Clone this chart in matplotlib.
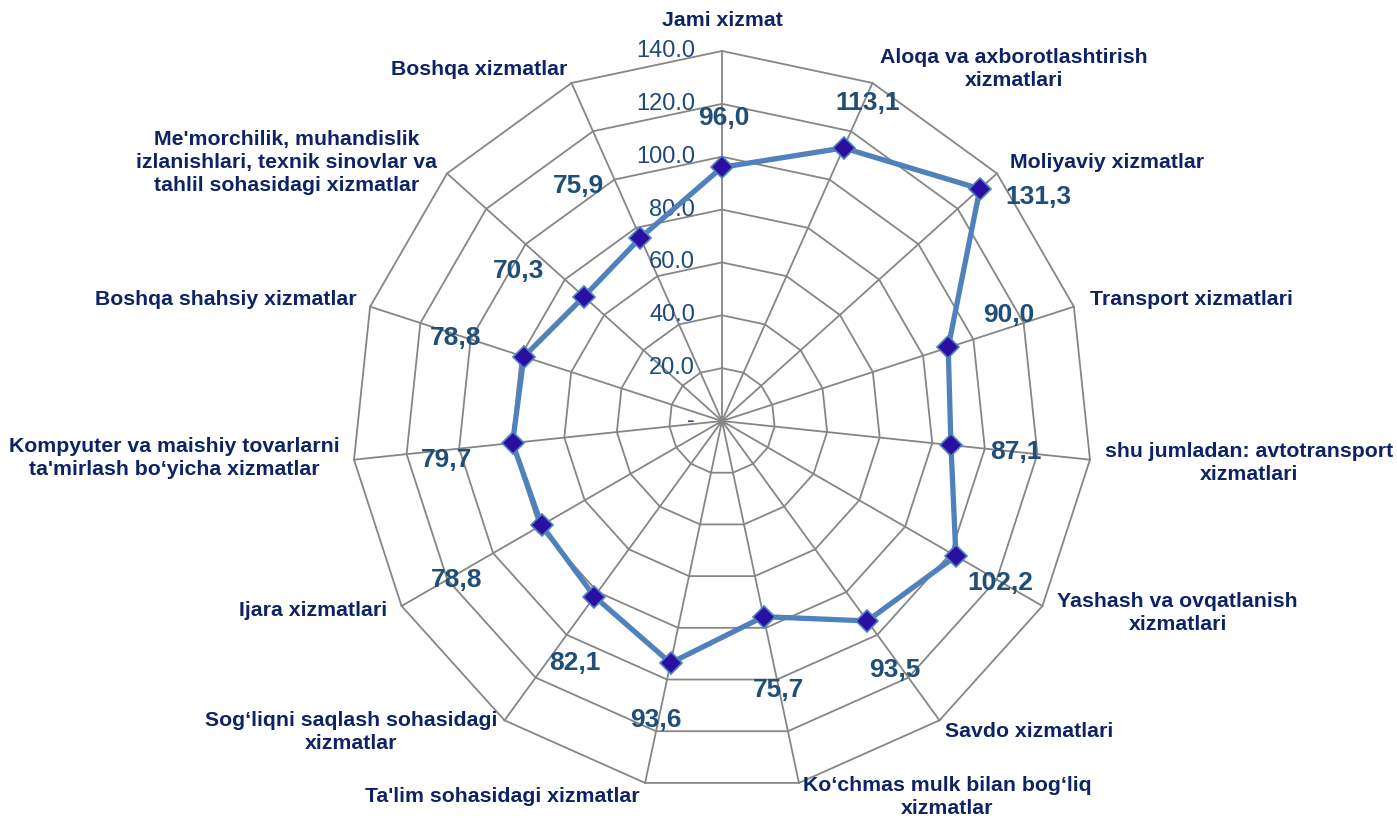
import numpy as np
import matplotlib
matplotlib.use("Agg")
import matplotlib.pyplot as plt

categories = [
    "Jami xizmat",
    "Aloqa va axborotlashtirish\nxizmatlari",
    "Moliyaviy xizmatlar",
    "Transport xizmatlari",
    "shu jumladan: avtotransport\nxizmatlari",
    "Yashash va ovqatlanish\nxizmatlari",
    "Savdo xizmatlari",
    "Ko\u2018chmas mulk bilan bog\u2018liq\nxizmatlar",
    "Ta'lim sohasidagi xizmatlar",
    "Sog\u2018liqni saqlash sohasidagi\nxizmatlar",
    "Ijara xizmatlari",
    "Kompyuter va maishiy tovarlarni\nta'mirlash bo\u2018yicha xizmatlar",
    "Boshqa shahsiy xizmatlar",
    "Me'morchilik, muhandislik\nizlanishlari, texnik sinovlar va\ntahlil sohasidagi xizmatlar",
    "Boshqa xizmatlar",
]
values = [96.0, 113.1, 131.3, 90.0, 87.1, 102.2, 93.5, 75.7, 93.6, 82.1, 78.8, 79.7, 78.8, 70.3, 75.9]
value_labels = ["96,0", "113,1", "131,3", "90,0", "87,1", "102,2", "93,5", "75,7",
                "93,6", "82,1", "78,8", "79,7", "78,8", "70,3", "75,9"]
ring_levels = [0, 20, 40, 60, 80, 100, 120, 140]
ring_labels = ["-", "20.0", "40.0", "60.0", "80.0", "100.0", "120.0", "140.0"]

# layout / style (pixel offsets for labels)
cat_offsets = [(0, -31), (8, -14), (13, -11), (16, -7), (15, 3), (15, 7), (6, 11), (4, 14),
               (-5, 14), (-7, 12), (-14, 5), (-14, -2), (-13, -7), (-10, -11), (-4, -13)]
cat_ha = ["center", "left", "left", "left", "left", "left", "left", "left",
          "right", "right", "right", "right", "right", "right", "right"]
cat_ma = ["center"] * 15
val_offsets = [(2, -49), (24, -45), (59, 8), (61, -32), (65, 7), (44, 27), (28, 49), (15, 73),
               (-15, 57), (-20, 66), (-85, 55), (-66, 17), (-68, -19), (-65, -26), (-62, -52)]

W, H = 1397, 818
cx, cy = 722, 421
rmax_px = 370.0
k = rmax_px / 140.0  # px per unit

fig = plt.figure(figsize=(W / 100, H / 100), dpi=100)
ax = fig.add_axes([0, 0, 1, 1])
ax.set_xlim(-cx / k, (W - cx) / k)
ax.set_ylim(-(H - cy) / k, cy / k)
ax.set_aspect("equal")
ax.axis("off")

n = len(categories)
ang = np.deg2rad(90 - 360.0 / n * np.arange(n))
ux, uy = np.cos(ang), np.sin(ang)

grid_col = "#868686"
for lvl in ring_levels[1:]:
    xs = np.append(ux * lvl, ux[0] * lvl)
    ys = np.append(uy * lvl, uy[0] * lvl)
    ax.plot(xs, ys, color=grid_col, lw=1.3, zorder=1)
for i in range(n):
    ax.plot([0, ux[i] * ring_levels[-1]], [0, uy[i] * ring_levels[-1]], color=grid_col, lw=1.3, zorder=1)

for lvl, lab in zip(ring_levels, ring_labels):
    ax.annotate(lab, xy=(0, lvl), xytext=(-27, 0), textcoords="offset pixels",
                ha="right", va="center", fontsize=17, color="#1F497D",
                family="Liberation Sans", zorder=2)

v = np.array(values)
px_, py_ = ux * v, uy * v
ax.plot(np.append(px_, px_[0]), np.append(py_, py_[0]), color="#4F81BD", lw=3.8,
        solid_joinstyle="miter", zorder=3)
ax.plot(px_, py_, linestyle="none", marker="D", markersize=11.5, markerfacecolor="#2B0FA3",
        markeredgecolor="#4F81BD", markeredgewidth=1.2, zorder=4)

for i in range(n):
    ax.annotate(value_labels[i], xy=(px_[i], py_[i]),
                xytext=(val_offsets[i][0], -val_offsets[i][1]), textcoords="offset pixels",
                ha="center", va="center", fontsize=19, fontweight="bold",
                color="#1F4E79", family="Liberation Sans", zorder=5)

for i in range(n):
    vx, vy = ux[i] * ring_levels[-1], uy[i] * ring_levels[-1]
    ax.annotate(categories[i], xy=(vx, vy),
                xytext=(cat_offsets[i][0], -cat_offsets[i][1]), textcoords="offset pixels",
                ha=cat_ha[i], va="center", multialignment=cat_ma[i],
                fontsize=15.3, fontweight="bold", color="#0D2366",
                family="Liberation Sans", linespacing=1.25, zorder=5)

fig.savefig("out.png", dpi=100)
